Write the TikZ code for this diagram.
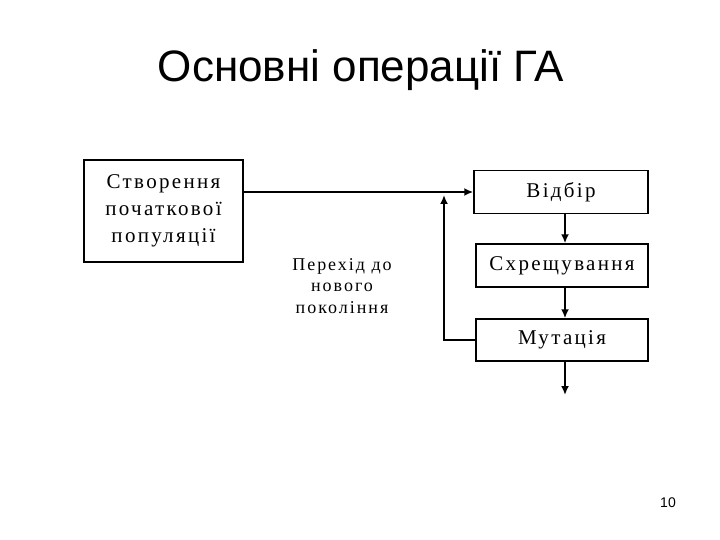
\documentclass[tikz,border=0pt]{standalone}
\usepackage{fontspec}
\setmainfont{Liberation Serif}[LetterSpace=11]
\newfontfamily\titlefont{Liberation Sans}
\usetikzlibrary{arrows.meta}
\begin{document}
\begin{tikzpicture}[x=1pt, y=-1pt,
    box/.style={draw, line width=1.5pt, inner sep=0pt, font=\fontsize{21}{27}\selectfont, align=center},
    flow/.style={line width=1.8pt, -{Latex[length=9pt, width=8pt]}}]
        % рамка сторінки
        \useasboundingbox (0,0) rectangle (720,540);
        % заголовок
        \node[font=\titlefont\fontsize{44}{50}\selectfont] (title) at (361,70) {Основні операції ГА};
        % блоки
        \node[box, minimum width=159pt, minimum height=102pt] (init) at (163.5,211) {Створення\\початкової\\популяції};
        \node[box, minimum width=174pt, minimum height=43pt] (sel) at (561,192) {Відбір};
        \node[box, minimum width=172pt, minimum height=43pt] (cross) at (562,265.5) {Схрещування};
        \node[box, minimum width=172pt, minimum height=42pt] (mut) at (562,340) {Мутація};
        % підпис циклу
        \node[font=\fontsize{18}{21.5}\selectfont, align=center] (loop) at (342,286) {Перехід до\\нового\\покоління};
        % допоміжні точки
        \coordinate (fb) at (444,195);
        \coordinate (out) at (565,395);
        % стрілки
        \draw[flow] (sel.west -| init.east) -- (sel.west);
        \draw[flow] (sel.south -| 565,0) -- (cross.north -| 565,0);
        \draw[flow] (cross.south -| 565,0) -- (mut.north -| 565,0);
        \draw[flow] (mut.south -| 565,0) -- (out);
        % зворотний зв'язок
        \draw[flow] (mut.west) -| (fb);
        % номер слайду
        \node[font=\titlefont\fontsize{14}{16}\selectfont] (num) at (668,503) {10};
    \end{tikzpicture}
\end{document}
